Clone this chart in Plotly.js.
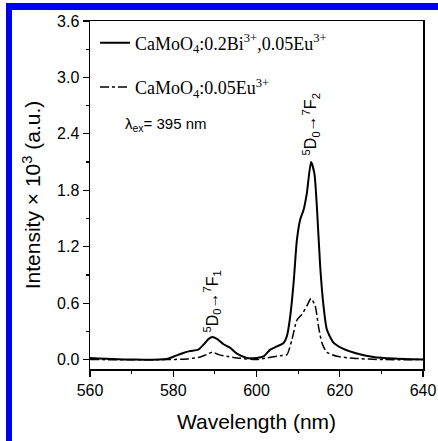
<!DOCTYPE html>
<html>
<head>
<meta charset="utf-8">
<script src="https://cdn.plot.ly/plotly-3.0.1.min.js"></script>
<style>
html,body{margin:0;padding:0;background:#fff;}
#wrap{position:relative;width:438px;height:441px;overflow:hidden;}
#chart{position:absolute;left:0;top:0;width:438px;height:441px;}
#frame{position:absolute;left:6px;top:3px;width:460px;height:433px;border-left:6px solid #0000f0;border-top:7px solid #0000f0;border-bottom:5px solid #0000f0;pointer-events:none;}
</style>
</head>
<body>
<div id="wrap">
<div id="chart"></div>
<div id="frame"></div>
</div>
<script>
// Wavelength (nm) and intensity (x10^3, a.u.)
const wlBi = [560, 570.4, 578.4, 580, 582.4, 584, 586, 587.3, 588.5, 589.4, 590.5, 592, 593.7, 595.3, 597.7, 600, 601.7, 603.3, 604.9, 606.5, 607.3, 608.1, 608.9, 609.7, 610.5, 611.3, 612.1, 613.1, 613.9, 614.5, 615.3, 616.1, 616.9, 618.5, 620.9, 624.1, 628.1, 633, 640];
const intBi = [0.018, 0.0, 0.007, 0.03, 0.07, 0.09, 0.106, 0.16, 0.22, 0.24, 0.22, 0.166, 0.124, 0.064, 0.018, 0.018, 0.035, 0.106, 0.14, 0.177, 0.25, 0.46, 0.81, 1.27, 1.49, 1.59, 1.77, 2.10, 1.98, 1.63, 0.99, 0.57, 0.32, 0.18, 0.113, 0.064, 0.028, 0.011, 0.0];
const wlEu = [560, 578.4, 583.2, 586.5, 588, 589.4, 590.9, 592.9, 596.1, 600, 602.5, 605.7, 607.3, 608.5, 609.7, 610.9, 612.1, 613.1, 614.1, 614.9, 615.7, 616.9, 619.3, 623.3, 630.5, 640];
const intEu = [0.0, 0.0, 0.007, 0.028, 0.053, 0.078, 0.053, 0.035, 0.014, 0.0, 0.018, 0.042, 0.053, 0.21, 0.42, 0.48, 0.57, 0.65, 0.57, 0.35, 0.18, 0.078, 0.035, 0.014, 0.0, 0.0];
const seriesNames = ['CaMoO<sub>4</sub>:0.2Bi<sup>3+</sup>,0.05Eu<sup>3+</sup>', 'CaMoO<sub>4</sub>:0.05Eu<sup>3+</sup>'];
const yTicks = [0.0, 0.6, 1.2, 1.8, 2.4, 3.0, 3.6];
const xTicks = [560, 580, 600, 620, 640];

const traces = [
  {x: wlBi, y: intBi, name: seriesNames[0], type: 'scatter', mode: 'lines', legendgroup: 'a',
   line: {color: '#000', width: 2, shape: 'spline', smoothing: 0.6}},
  {x: wlEu, y: intEu, name: seriesNames[1], type: 'scatter', mode: 'lines', legendgroup: 'b',
   line: {color: '#000', width: 1.5, dash: 'dashdot', shape: 'spline', smoothing: 0.6}}
];

const axFont = {family: 'Liberation Sans, Arial, sans-serif', size: 16, color: '#000'};
const layout = {
  width: 438, height: 441,
  margin: {l: 90, r: 15, t: 21, b: 72},
  paper_bgcolor: '#fff', plot_bgcolor: '#fff',
  showlegend: true,
  legend: {x: 0.015, y: 0.99, xanchor: 'left', yanchor: 'top', bgcolor: 'rgba(0,0,0,0)',
    font: {family: 'Liberation Serif, Times New Roman, serif', size: 18, color: '#000'},
    traceorder: 'grouped', tracegroupgap: 18, itemwidth: 30},
  xaxis: {range: [560, 640], tickvals: xTicks, ticktext: xTicks.map(String),
    showline: true, linecolor: '#000', linewidth: 1.5, mirror: true,
    ticks: 'outside', ticklen: 6, tickwidth: 1.2, tickcolor: '#000',
    minor: {dtick: 10, tick0: 560, ticks: 'outside', ticklen: 3, tickwidth: 1.2, tickcolor: '#000', showgrid: false},
    showgrid: false, zeroline: false, tickfont: axFont,
    title: {text: 'Wavelength (nm)', font: {family: 'Liberation Sans, Arial, sans-serif', size: 21, color: '#000'}, standoff: 16}},
  yaxis: {range: [-0.1, 3.6], tickvals: yTicks, ticktext: yTicks.map(v => v.toFixed(1)),
    showline: true, linecolor: '#000', linewidth: 1.5, mirror: true,
    ticks: 'outside', ticklen: 6, tickwidth: 1.2, tickcolor: '#000',
    minor: {dtick: 0.3, tick0: 0, ticks: 'outside', ticklen: 3, tickwidth: 1.2, tickcolor: '#000', showgrid: false},
    showgrid: false, zeroline: false, tickfont: axFont,
    title: {text: 'Intensity × 10<sup>3</sup> (a.u.)', font: {family: 'Liberation Sans, Arial, sans-serif', size: 21, color: '#000'}, standoff: 10}},
  annotations: [
    {x: 0.1, y: 2.5, xref: 'paper', yref: 'y', xanchor: 'left', yanchor: 'middle', showarrow: false,
     text: 'λ<sub>ex</sub>= 395 nm', font: {family: 'Liberation Sans, Arial, sans-serif', size: 15, color: '#000'}},
    {x: 613.1, y: 2.15, xref: 'x', yref: 'y', xanchor: 'center', yanchor: 'bottom', showarrow: false, textangle: -90,
     text: '<sup>5</sup>D<sub>0</sub>→<sup>7</sup>F<sub>2</sub>', font: {family: 'Liberation Sans, Arial, sans-serif', size: 16, color: '#000'}},
    {x: 589.4, y: 0.27, xref: 'x', yref: 'y', xanchor: 'center', yanchor: 'bottom', showarrow: false, textangle: -90,
     text: '<sup>5</sup>D<sub>0</sub>→<sup>7</sup>F<sub>1</sub>', font: {family: 'Liberation Sans, Arial, sans-serif', size: 16, color: '#000'}}
  ]
};

Plotly.newPlot('chart', traces, layout, {displayModeBar: false, staticPlot: true});
</script>
</body>
</html>
